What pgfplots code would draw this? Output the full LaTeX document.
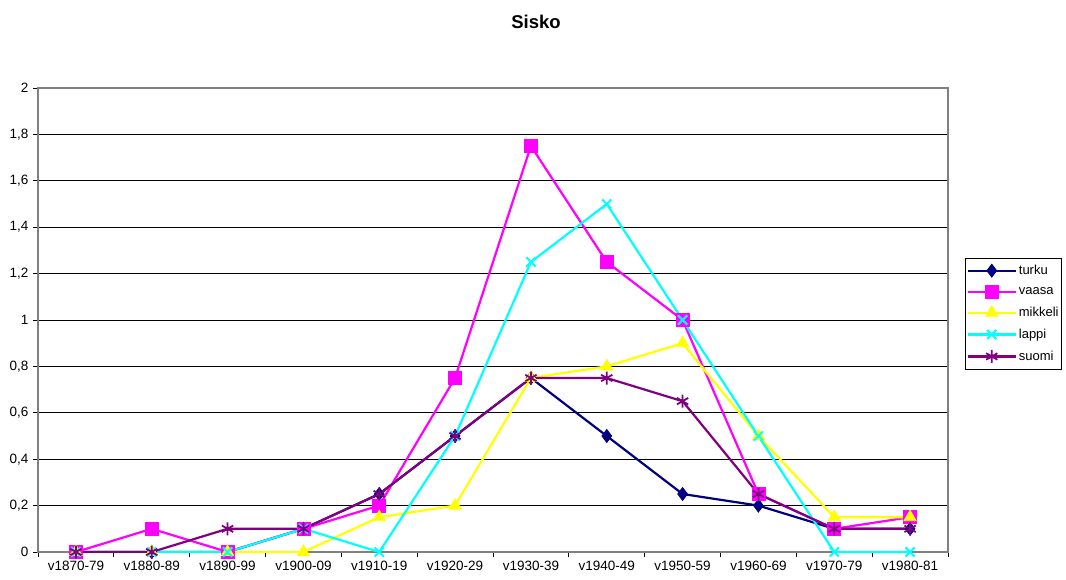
\documentclass[border=0pt]{standalone}
\usepackage{fontspec}
\setmainfont{Liberation Sans}
\usepackage{pgfplots}
\pgfplotsset{compat=1.18}

\definecolor{cturku}{RGB}{0,0,128}
\definecolor{cvaasa}{RGB}{255,0,255}
\definecolor{cmikkeli}{RGB}{255,255,0}
\definecolor{clappi}{RGB}{0,255,255}
\definecolor{csuomi}{RGB}{128,0,128}

\begin{document}
\begin{tikzpicture}[x=1pt,y=1pt]
\path (0,0) rectangle (1066,579);
\node[font=\fontsize{18.5}{21}\selectfont\bfseries] at (536,557) {Sisko};
\begin{axis}[
    at={(38pt,27pt)}, anchor=south west,
    scale only axis,
    width=910pt, height=464pt,
    xmin=-0.5, xmax=11.5,
    ymin=0, ymax=2,
    xtick={0,...,11},
    xticklabels={v1870-79,v1880-89,v1890-99,v1900-09,v1910-19,v1920-29,v1930-39,v1940-49,v1950-59,v1960-69,v1970-79,v1980-81},
    minor xtick={-0.5,0.5,...,11.5},
    major x tick style={draw=none},
    ytick={0,0.2,...,2},
    ymajorgrids,
    grid style={black, line width=0.8pt},
    axis line style={gray, line width=1.5pt},
    tick align=outside,
    tick style={black, line width=0.8pt},
    major tick length=5pt, minor tick length=5pt,
    xtick pos=bottom, ytick pos=left,
    xticklabel style={font=\fontsize{13.5}{15}\selectfont, yshift=-1pt},
    yticklabel style={font=\fontsize{13.5}{15}\selectfont, xshift=-1pt,
        /pgf/number format/.cd, use comma, fixed, precision=1},
    /pgf/number format/assume math mode=true,
    legend style={at={(1.019,0.634)}, anchor=north west, draw=black, line width=0.8pt,
        font=\fontsize{13}{15}\selectfont, row sep=7pt, inner xsep=1pt, inner ysep=5pt},
    legend cell align=left,
    legend image code/.code={\draw[mark repeat=2, mark phase=2, #1]
        plot coordinates {(0pt,0pt) (24pt,0pt) (48pt,0pt)};},
    every axis plot/.append style={line width=2.2pt},
]
\addplot[cturku, mark=diamond*, mark size=6.5pt, mark options={line width=0.8pt}] coordinates {
 (0,0) (1,0) (2,0) (3,0.1) (4,0.25) (5,0.5) (6,0.75) (7,0.5) (8,0.25) (9,0.2) (10,0.1) (11,0.1)};
\addlegendentry{turku}
\addplot[cvaasa, mark=square*, mark size=6.5pt, mark options={line width=0.8pt}] coordinates {
 (0,0) (1,0.1) (2,0) (3,0.1) (4,0.2) (5,0.75) (6,1.75) (7,1.25) (8,1.0) (9,0.25) (10,0.1) (11,0.15)};
\addlegendentry{vaasa}
\addplot[cmikkeli, mark=triangle*, mark size=7pt, mark options={line width=0.8pt}] coordinates {
 (0,0) (1,0) (2,0) (3,0) (4,0.15) (5,0.2) (6,0.75) (7,0.8) (8,0.9) (9,0.5) (10,0.15) (11,0.15)};
\addlegendentry{mikkeli}
\addplot[clappi, mark=x, mark size=6.5pt, mark options={line width=2pt}] coordinates {
 (0,0) (1,0) (2,0) (3,0.1) (4,0) (5,0.5) (6,1.25) (7,1.5) (8,1.0) (9,0.5) (10,0) (11,0)};
\addlegendentry{lappi}
\addplot[csuomi, mark=asterisk, mark size=6.5pt, mark options={line width=1.8pt}] coordinates {
 (0,0) (1,0) (2,0.1) (3,0.1) (4,0.25) (5,0.5) (6,0.75) (7,0.75) (8,0.65) (9,0.25) (10,0.1) (11,0.1)};
\addlegendentry{suomi}
\end{axis}
\end{tikzpicture}
\end{document}
